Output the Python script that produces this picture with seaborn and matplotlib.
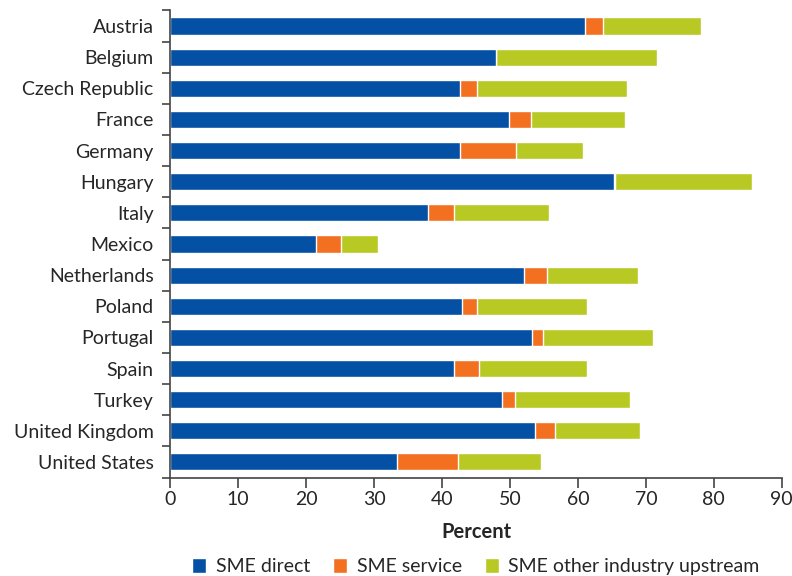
import numpy as np
import pandas as pd
import seaborn as sns
import matplotlib.pyplot as plt
from matplotlib.patches import Patch
from matplotlib.ticker import FixedLocator

countries = ["Austria", "Belgium", "Czech Republic", "France", "Germany", "Hungary",
             "Italy", "Mexico", "Netherlands", "Poland", "Portugal", "Spain",
             "Turkey", "United Kingdom", "United States"]
sme_direct = [61.0, 48.0, 42.7, 49.9, 42.6, 65.3, 38.0, 21.5, 52.1, 42.9, 53.3, 41.7, 48.9, 53.7, 33.4]
sme_service = [2.7, 0.0, 2.4, 3.2, 8.3, 0.1, 3.7, 3.6, 3.3, 2.2, 1.6, 3.8, 1.9, 3.0, 8.9]
sme_upstream = [14.4, 23.6, 22.1, 13.9, 9.8, 20.3, 14.1, 5.5, 13.4, 16.3, 16.2, 15.9, 16.8, 12.5, 12.2]

colors = {"SME direct": "#0450A4",
          "SME service": "#F37021",
          "SME other industry upstream": "#B9C924"}

df = pd.DataFrame({"country": countries, "direct": sme_direct,
                   "service": sme_service, "upstream": sme_upstream})
df["cum_service"] = df["direct"] + df["service"]
df["cum_total"] = df["cum_service"] + df["upstream"]

sns.set_style("ticks")
plt.rcParams['font.family'] = ['Lato', 'DejaVu Sans']

fig, ax = plt.subplots(figsize=(7.92, 5.76), dpi=100)
fig.subplots_adjust(left=0.215, right=0.987, top=0.982, bottom=0.171)

# stacked bars: draw cumulative totals back to front
sns.barplot(data=df, y="country", x="cum_total", color=colors["SME other industry upstream"],
            orient="h", width=0.55, saturation=1, ax=ax)
sns.barplot(data=df, y="country", x="cum_service", color=colors["SME service"],
            orient="h", width=0.55, saturation=1, ax=ax)
sns.barplot(data=df, y="country", x="direct", color=colors["SME direct"],
            orient="h", width=0.55, saturation=1, ax=ax)

ax.set_xlim(0, 90)
ax.set_ylim(len(countries) - 0.5, -0.5)
ax.set_xticks(np.arange(0, 91, 10))
ax.set_ylabel("")
ax.set_xlabel("Percent", fontsize=14.5, fontweight="bold", labelpad=10)

# y ticks sit between categories
ax.yaxis.set_minor_locator(FixedLocator(np.arange(-0.5, len(countries), 1)))
ax.tick_params(axis="y", which="major", length=0, labelsize=14, pad=12)
ax.tick_params(axis="y", which="minor", length=6, width=1.2, color="#444444")
ax.tick_params(axis="x", which="major", length=7, width=1.2, color="#444444", labelsize=14, pad=3)

for side in ["top", "right"]:
    ax.spines[side].set_visible(False)
for side in ["left", "bottom"]:
    ax.spines[side].set_color("#444444")
    ax.spines[side].set_linewidth(1.2)

handles = [Patch(facecolor=c, label=l) for l, c in colors.items()]
ax.legend(handles=handles, loc="upper center", bbox_to_anchor=(0.5, -0.135), ncol=3,
          frameon=False, fontsize=14, handlelength=0.7, handleheight=0.8,
          handletextpad=0.5, columnspacing=1.2)

fig.savefig("out.png", dpi=100)
